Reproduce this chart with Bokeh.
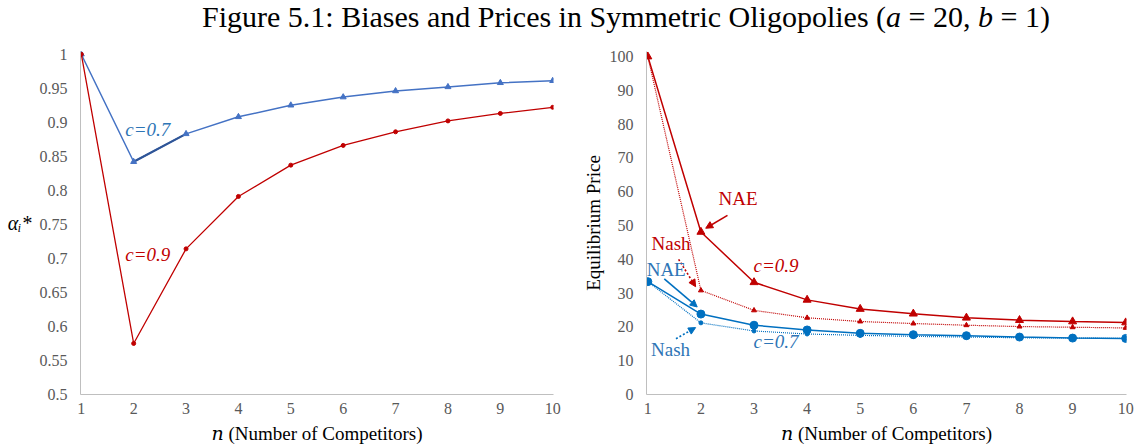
from bokeh.plotting import figure
from bokeh.layouts import column, row
from bokeh.models import Div, Label, Arrow, NormalHead, FixedTicker, Range1d
from bokeh.embed import file_html
from bokeh.resources import INLINE

# ---------------- data ----------------
n = [1, 2, 3, 4, 5, 6, 7, 8, 9, 10]
alpha_c07 = [1.0, 0.842, 0.883, 0.908, 0.925, 0.937, 0.946, 0.952, 0.958, 0.961]
alpha_c09 = [1.0, 0.575, 0.714, 0.791, 0.837, 0.866, 0.886, 0.902, 0.913, 0.922]
price_nae_c09 = [100, 48.1, 33.2, 28.0, 25.3, 23.9, 22.7, 22.0, 21.6, 21.3]
price_nash_c09 = [100, 30.8, 24.9, 22.7, 21.6, 21.0, 20.5, 20.1, 19.9, 19.7]
price_nae_c07 = [33.4, 23.8, 20.5, 19.1, 18.1, 17.7, 17.4, 17.0, 16.7, 16.6]
price_nash_c07 = [33.4, 21.2, 18.8, 17.9, 17.5, 17.2, 17.0, 16.8, 16.7, 16.6]

x_ticks = [1, 2, 3, 4, 5, 6, 7, 8, 9, 10]
left_y_ticks = [0.5, 0.55, 0.6, 0.65, 0.7, 0.75, 0.8, 0.85, 0.9, 0.95, 1.0]
left_y_labels = ["0.5", "0.55", "0.6", "0.65", "0.7", "0.75", "0.8", "0.85", "0.9", "0.95", "1"]
right_y_ticks = [0, 10, 20, 30, 40, 50, 60, 70, 80, 90, 100]

title_html = ("Figure 5.1: Biases and Prices in Symmetric Oligopolies "
              "(<i>a</i> = 20, <i>b</i> = 1)")
x_label = "\U0001D45B (Number of Competitors)"
left_y_label = "\u03b1\u1d62*"
right_y_label = "Equilibrium Price"

RED = "#C00000"
BLUE_L = "#4472C4"
BLUE_R = "#0070C0"
BLUE_TXT = "#2E75B6"
SERIF = "Liberation Serif"
SERIF_FB = "'Liberation Serif', 'DejaVu Serif', serif"
AXIS_GRAY = "#BFBFBF"
TICK_GRAY = "#595959"


def style(p, yticks):
    for ax in (p.xaxis, p.yaxis):
        ax.axis_line_color = AXIS_GRAY
        ax.axis_line_width = 1
        ax.major_tick_line_color = None
        ax.minor_tick_line_color = None
        ax.major_tick_out = 0
        ax.major_tick_in = 0
        ax.major_label_text_font = SERIF
        ax.major_label_text_font_size = "16px"
        ax.major_label_text_color = TICK_GRAY
        ax.axis_label_text_font = SERIF_FB
        ax.axis_label_text_font_style = "normal"
        ax.axis_label_text_color = "black"
    p.xaxis.ticker = FixedTicker(ticks=x_ticks)
    p.yaxis.ticker = FixedTicker(ticks=yticks)
    p.xaxis.major_label_standoff = 8
    p.yaxis.major_label_standoff = 13
    p.xaxis.axis_label = x_label
    p.xaxis.axis_label_text_font_size = "19px"
    p.xaxis.axis_label_standoff = 6
    p.xgrid.grid_line_color = None
    p.ygrid.grid_line_color = None
    p.outline_line_color = None
    p.background_fill_color = "white"
    p.border_fill_color = "white"


def lab(p, x, y, text, color, italic=False, size="19px"):
    p.add_layout(Label(x=x, y=y, text=text, text_font=SERIF,
                       text_font_style="italic" if italic else "normal",
                       text_font_size=size, text_color=color,
                       text_align="left", text_baseline="middle"))


def arr(p, xs, ys, xe, ye, color, dash="solid"):
    p.add_layout(Arrow(end=NormalHead(size=7, fill_color=color, line_color=color),
                       x_start=xs, y_start=ys, x_end=xe, y_end=ye,
                       line_color=color, line_width=1.6, line_dash=dash))


# ---------------- left chart ----------------
p1 = figure(width=565, height=406, output_backend="svg", toolbar_location=None,
            x_range=Range1d(0.985, 10.015), y_range=Range1d(0.5, 1.004),
            min_border_left=80, min_border_right=12, min_border_top=11,
            min_border_bottom=51)
style(p1, left_y_ticks)
p1.yaxis.major_label_overrides = {t: s for t, s in zip(left_y_ticks, left_y_labels)}
p1.yaxis.axis_label = left_y_label
p1.yaxis.axis_label_orientation = "horizontal"
p1.yaxis.axis_label_text_font_style = "italic"
p1.yaxis.axis_label_text_font_size = "20px"
p1.yaxis.axis_label_standoff = 5

p1.line(n, alpha_c07, line_color=BLUE_L, line_width=1.5)
p1.line(n[1:3], alpha_c07[1:3], line_color="#2F5597", line_width=2.2)
p1.scatter(n, alpha_c07, marker="triangle", size=6, fill_color=BLUE_L, line_color=BLUE_L)
p1.line(n, alpha_c09, line_color=RED, line_width=1.3)
p1.scatter(n, alpha_c09, marker="circle", size=4, fill_color=RED, line_color=RED)

lab(p1, 1.84, 0.89, "c=0.7", BLUE_TXT, italic=True)
lab(p1, 1.84, 0.705, "c=0.9", RED, italic=True)

# ---------------- right chart ----------------
p2 = figure(width=573, height=406, output_backend="svg", toolbar_location=None,
            x_range=Range1d(0.975, 10.015), y_range=Range1d(0, 101.5),
            min_border_left=81, min_border_right=12, min_border_top=6,
            min_border_bottom=52)
style(p2, right_y_ticks)
p2.yaxis.axis_label = right_y_label
p2.yaxis.axis_label_text_font_size = "19px"
p2.yaxis.axis_label_standoff = 3

p2.line(n, price_nash_c09, line_color=RED, line_width=1.2, line_dash="1 1")
p2.scatter(n, price_nash_c09, marker="triangle", size=5, fill_color=RED, line_color=RED)
p2.line(n, price_nae_c09, line_color=RED, line_width=1.5)
p2.scatter(n, price_nae_c09, marker="triangle", size=8, fill_color=RED, line_color=RED)
p2.line(n, price_nash_c07, line_color=BLUE_R, line_width=1.2, line_dash="1 1")
p2.scatter(n, price_nash_c07, marker="circle", size=4, fill_color=BLUE_R, line_color=BLUE_R)
p2.line(n, price_nae_c07, line_color=BLUE_R, line_width=1.5)
p2.scatter(n, price_nae_c07, marker="circle", size=8, fill_color=BLUE_R, line_color=BLUE_R)

lab(p2, 2.33, 58.0, "NAE", RED)
arr(p2, 2.50, 53.0, 2.09, 49.2, RED)
lab(p2, 1.07, 44.6, "Nash", RED)
arr(p2, 1.58, 40.0, 1.90, 31.9, RED, "2 2")
lab(p2, 0.978, 37.1, "NAE", BLUE_TXT)
arr(p2, 1.31, 34.2, 1.93, 25.9, BLUE_R)
lab(p2, 1.06, 13.3, "Nash", BLUE_TXT)
arr(p2, 1.53, 16.5, 1.90, 19.8, BLUE_R, "2 2")
lab(p2, 2.99, 38.1, "c=0.9", RED, italic=True)
lab(p2, 2.99, 15.7, "c=0.7", BLUE_TXT, italic=True)

title = Div(text=title_html, width=1138, height=40, margin=0,
            styles={"font-family": "'Liberation Serif', serif", "font-size": "30px",
                    "color": "black", "text-align": "left", "width": "1138px",
                    "padding-left": "202px", "box-sizing": "border-box",
                    "line-height": "34px", "white-space": "nowrap"})

layout = column(title, row(p1, p2, spacing=0), spacing=0)
open("out.html", "w").write(file_html(layout, INLINE))
